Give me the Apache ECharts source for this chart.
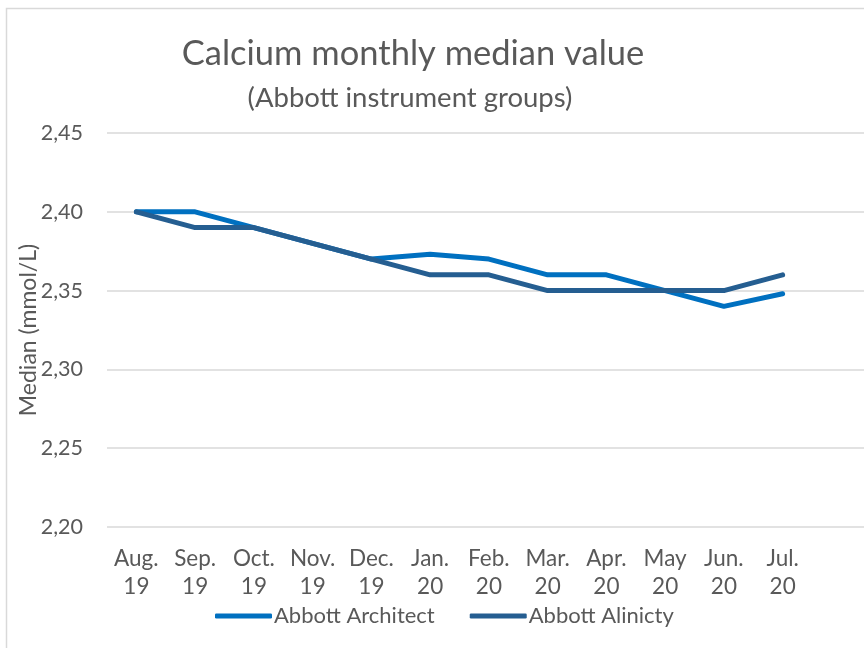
<!DOCTYPE html>
<html>
<head>
  <meta charset="utf-8">
  <title>Calcium monthly median value</title>
  <script src="https://cdn.jsdelivr.net/npm/echarts@6/dist/echarts.min.js"></script>
  <style>
    html, body { margin: 0; padding: 0; background: #fff; }
    #chart { width: 864px; height: 648px; }
  </style>
</head>
<body>
  <div id="chart"></div>
  <script>
    // datos
    const meses = ['Aug.\n19', 'Sep.\n19', 'Oct.\n19', 'Nov.\n19', 'Dec.\n19', 'Jan.\n20',
                   'Feb.\n20', 'Mar.\n20', 'Apr.\n20', 'May\n20', 'Jun.\n20', 'Jul.\n20'];
    const architect = [2.40, 2.40, 2.39, 2.38, 2.37, 2.373, 2.37, 2.36, 2.36, 2.35, 2.34, 2.348];
    const alinicty  = [2.40, 2.39, 2.39, 2.38, 2.37, 2.36, 2.36, 2.35, 2.35, 2.35, 2.35, 2.36];

    const fuente = 'Lato, "Open Sans", sans-serif';
    const gris = '#595959';
    const yMin = 2.20, yMax = 2.45, paso = 0.05;

    var myChart = echarts.init(document.getElementById('chart'));

    var option = {
      animation: false,
      backgroundColor: '#fff',
      textStyle: { fontFamily: fuente },
      title: [
        {
          text: 'Calcium monthly median value',
          left: 408, top: 31, textAlign: 'center',
          textStyle: { fontFamily: fuente, fontSize: 34.5, fontWeight: 'normal', color: gris }
        },
        {
          text: '(Abbott instrument groups)',
          left: 405, top: 79, textAlign: 'center',
          textStyle: { fontFamily: fuente, fontSize: 27.5, fontWeight: 'normal', color: gris }
        }
      ],
      graphic: [{
        type: 'rect',
        shape: { x: 6.5, y: 8.5, width: 900, height: 700 },
        style: { fill: 'none', stroke: '#d9d9d9', lineWidth: 1.5 },
        silent: true
      }],
      legend: {
        top: 600, left: 210,
        itemWidth: 57, itemHeight: 5, itemGap: 35,
        icon: 'roundRect',
        textStyle: { fontFamily: fuente, fontSize: 22, color: gris, padding: [0, 0, 0, -3] },
        data: ['Abbott Architect', 'Abbott Alinicty']
      },
      grid: [
        { left: 107, top: 133, width: 705, bottom: 121, containLabel: false },
        { left: 107, top: 133, right: -20, bottom: 121, containLabel: false }
      ],
      xAxis: [
        {
          type: 'category', gridIndex: 0, data: meses, boundaryGap: true,
          axisLine: { show: false }, axisTick: { show: false },
          axisLabel: {
            color: gris, fontSize: 22.5, fontFamily: fuente, lineHeight: 28, margin: 18,
            interval: 0, hideOverlap: false
          }
        },
        { type: 'value', gridIndex: 1, show: false, min: 0, max: 1 }
      ],
      yAxis: [
        {
          type: 'value', gridIndex: 0, min: yMin, max: yMax, interval: paso,
          name: 'Median (mmol/L)', nameLocation: 'middle', nameGap: 67,
          nameMoveOverlap: false,
          nameTextStyle: { color: gris, fontSize: 23, fontFamily: fuente },
          axisLine: { show: false }, axisTick: { show: false },
          axisLabel: {
            color: gris, fontSize: 21.5, fontFamily: fuente, margin: 24,
            formatter: v => v.toFixed(2).replace('.', ',')
          },
          splitLine: { show: false }
        },
        {
          type: 'value', gridIndex: 1, min: yMin, max: yMax, interval: paso,
          axisLine: { show: false }, axisTick: { show: false }, axisLabel: { show: false },
          splitLine: { show: true, lineStyle: { color: '#d9d9d9', width: 1.5 } }
        }
      ],
      series: [
        {
          name: 'Abbott Architect', type: 'line', data: architect,
          xAxisIndex: 0, yAxisIndex: 0, z: 3,
          showSymbol: false, symbol: 'none',
          itemStyle: { color: '#0070C0' },
          lineStyle: { color: '#0070C0', width: 5, cap: 'round', join: 'round' }
        },
        {
          name: 'Abbott Alinicty', type: 'line', data: alinicty,
          xAxisIndex: 0, yAxisIndex: 0, z: 4,
          showSymbol: false, symbol: 'none',
          itemStyle: { color: '#255E91' },
          lineStyle: { color: '#255E91', width: 5, cap: 'round', join: 'round' }
        }
      ]
    };

    myChart.setOption(option);
  </script>
</body>
</html>
